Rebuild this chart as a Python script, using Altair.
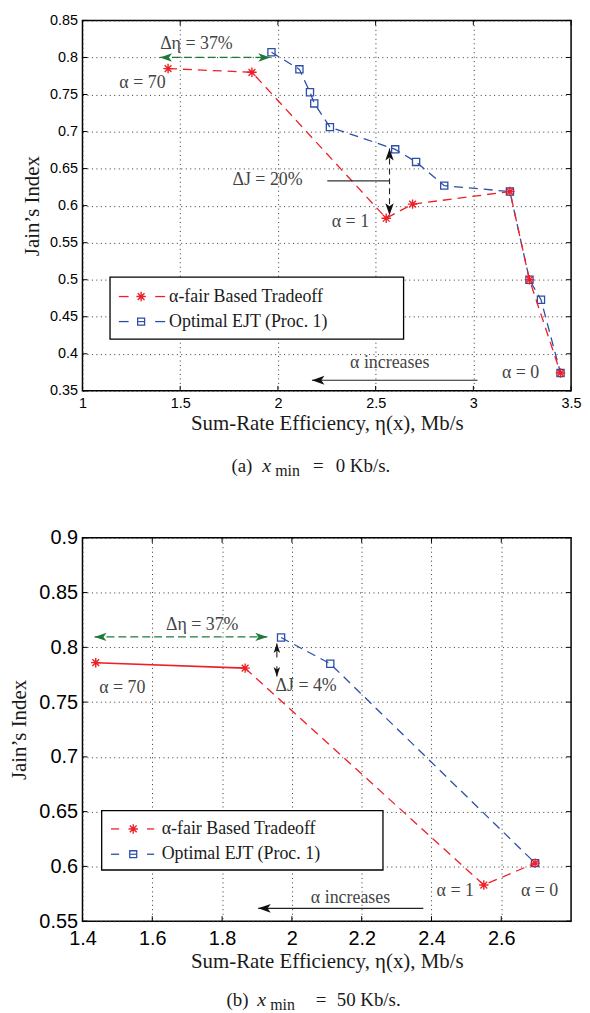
import altair as alt
import pandas as pd

# ---------------- data: panel (a) x_min = 0 Kb/s ----------------
a_fair_eta = [1.438, 1.867, 2.554, 2.689, 3.187, 3.287, 3.446]
a_fair_jain = [0.785, 0.780, 0.583, 0.602, 0.619, 0.500, 0.374]
a_ejt_eta = [1.967, 2.110, 2.164, 2.186, 2.266, 2.600, 2.707, 2.851, 3.187, 3.287, 3.346, 3.446]
a_ejt_jain = [0.807, 0.784, 0.753, 0.738, 0.706, 0.676, 0.659, 0.627, 0.619, 0.500, 0.473, 0.374]
a_xticks = [1.0, 1.5, 2.0, 2.5, 3.0, 3.5]
a_yticks = [0.35, 0.40, 0.45, 0.50, 0.55, 0.60, 0.65, 0.70, 0.75, 0.80, 0.85]

# ---------------- data: panel (b) x_min = 50 Kb/s ----------------
b_fair_eta = [1.438, 1.866, 2.550, 2.697]
b_fair_jain = [0.786, 0.781, 0.583, 0.603]
b_ejt_eta = [1.969, 2.110, 2.697]
b_ejt_jain = [0.809, 0.785, 0.603]
b_xticks = [1.4, 1.6, 1.8, 2.0, 2.2, 2.4, 2.6]
b_yticks = [0.55, 0.60, 0.65, 0.70, 0.75, 0.80, 0.85, 0.90]

series_names = ["α-fair Based Tradeoff", "Optimal EJT (Proc. 1)"]
cap_labels = ["(a)", "(b)"]
cap_values = ["0 Kb/s.", "50 Kb/s."]
x_title = "Sum-Rate Efficiency, η(x), Mb/s"
y_title = "Jain’s Index"

# ---------------- styles ----------------
RED = "#ee1f26"
BLUE = "#2d4ea8"
GREEN = "#1e7a3a"
ANN = "#444444"
TXT = "#1a1a1a"
SERIF = "Liberation Serif"
SANS = "Liberation Sans"
STAR = "M0,-1L0,1M-1,0L1,0M-0.72,-0.72L0.72,0.72M-0.72,0.72L0.72,-0.72"
ARR_L = "M0,0L2,-0.7L1.5,0L2,0.7Z"
ARR_R = "M0,0L-2,-0.7L-1.5,0L-2,0.7Z"
ARR_U = "M0,0L-0.7,2L0,1.5L0.7,2Z"
ARR_D = "M0,0L-0.7,-2L0,-1.5L0.7,-2Z"


def panel(p):
    W, H = p["W"], p["H"]
    xs = alt.Scale(domain=p["xdom"], nice=False, zero=False)
    ys = alt.Scale(domain=p["ydom"], nice=False, zero=False)

    common = dict(
        grid=True, gridDash=[1, 3.5], gridColor="#333333", gridWidth=1,
        ticks=False, domain=False, labelFont=SANS, labelFontSize=p["tfs"],
        labelColor="black", labelOverlap=False, format="~g",
        titleFont=SERIF, titleFontSize=21, titleFontWeight="normal", titleColor=TXT,
        titleAlign="center", titleBaseline="middle",
    )
    xaxis = alt.Axis(values=p["xt"], labelFlush=False, labelPadding=p["xlp"],
                     title=x_title, titleX=W / 2, titleY=p["xty"], **common)
    yaxis = alt.Axis(values=p["yt"], labelPadding=5, title=y_title,
                     titleX=p["ytx"], titleY=H / 2, titleAngle=-90, **common)

    def X(f="x"):
        return alt.X(f, type="quantitative", scale=xs, axis=xaxis)

    def Y(f="y"):
        return alt.Y(f, type="quantitative", scale=ys, axis=yaxis)

    def one(**kw):
        return pd.DataFrame({k: [v] for k, v in kw.items()})

    def txt(x, y, s, size=18, color=ANN, align="center"):
        return alt.Chart(one(x=x, y=y, t=s)).mark_text(
            font=SERIF, fontSize=size, color=color, align=align, baseline="middle"
        ).encode(x=X(), y=Y(), text="t:N")

    def seg(x1, y1, x2, y2, color="#222222", width=1.1, dash=None):
        kw = dict(color=color, strokeWidth=width)
        if dash:
            kw["strokeDash"] = dash
        return alt.Chart(one(x=x1, y=y1, x2=x2, y2=y2)).mark_rule(**kw).encode(
            x=X(), y=Y(), x2="x2:Q", y2="y2:Q"
        )

    def head(x, y, shape, color="#111111", size=144):
        return alt.Chart(one(x=x, y=y)).mark_point(
            shape=shape, filled=True, size=size, color=color, opacity=1, strokeWidth=0
        ).encode(x=X(), y=Y())

    de = pd.DataFrame({"x": p["ex"], "y": p["ey"], "i": range(len(p["ex"]))})
    df = pd.DataFrame({"x": p["fx"], "y": p["fy"], "i": range(len(p["fx"]))})
    ns = p["solid"]

    layers = []
    # EJT series
    layers.append(alt.Chart(de).mark_line(color=BLUE, strokeWidth=1.3, strokeDash=[9, 6]).encode(
        x=X(), y=Y(), order="i:Q"))
    layers.append(alt.Chart(de).mark_point(shape="square", filled=False, size=52, strokeWidth=1.3,
                                           color=BLUE, opacity=1).encode(x=X(), y=Y()))
    # alpha-fair series
    if ns > 1:
        layers.append(alt.Chart(df.iloc[:ns]).mark_line(color=RED, strokeWidth=1.6).encode(
            x=X(), y=Y(), order="i:Q"))
    layers.append(alt.Chart(df.iloc[max(ns - 1, 0):]).mark_line(
        color=RED, strokeWidth=1.3, strokeDash=[9, 6]).encode(x=X(), y=Y(), order="i:Q"))
    layers.append(alt.Chart(df).mark_point(shape=STAR, filled=False, size=90, strokeWidth=1.4,
                                           color=RED, opacity=1).encode(x=X(), y=Y()))

    # inner ticks on all four sides
    dxt = pd.DataFrame({"x": p["xt"]})
    dyt = pd.DataFrame({"y": p["yt"]})
    layers.append(alt.Chart(dxt).mark_rule(color="black", strokeWidth=1).encode(
        x=X(), y=alt.value(H), y2=alt.value(H - 5)))
    layers.append(alt.Chart(dxt).mark_rule(color="black", strokeWidth=1).encode(
        x=X(), y=alt.value(0), y2=alt.value(5)))
    layers.append(alt.Chart(dyt).mark_rule(color="black", strokeWidth=1).encode(
        y=Y(), x=alt.value(0), x2=alt.value(5)))
    layers.append(alt.Chart(dyt).mark_rule(color="black", strokeWidth=1).encode(
        y=Y(), x=alt.value(W), x2=alt.value(W - 5)))

    # annotations
    A = p["ann"]
    layers.append(txt(*A["deta_t"], "Δη = 37%"))
    gx1, gx2, gy = A["deta_arrow"]
    layers.append(seg(gx1, gy, gx2, gy, color=GREEN, width=1.3, dash=[8, 4]))
    layers.append(head(gx1, gy, ARR_L, GREEN))
    layers.append(head(gx2, gy, ARR_R, GREEN))
    layers.append(txt(*A["a70"], "α = 70"))
    layers.append(txt(*A["dj_t"], A["dj_s"], align=A["dj_align"]))
    jx, jy1, jy2, jd = A["dj_arrow"]
    layers.append(seg(jx, jy1, jx, jy2, dash=jd))
    layers.append(head(jx, jy1, ARR_U, size=A["dj_size"]))
    layers.append(head(jx, jy2, ARR_D, size=A["dj_size"]))
    if "dj_lead" in A:
        lx1, lx2, ly = A["dj_lead"]
        layers.append(seg(lx1, ly, lx2, ly, color="#333333", width=1.2))
    layers.append(txt(*A["a1"], "α = 1"))
    layers.append(txt(*A["a0"], "α = 0"))
    layers.append(txt(*A["inc_t"], "α increases"))
    ix1, ix2, iy = A["inc_arrow"]
    layers.append(seg(ix1, iy, ix2, iy, color="#222222", width=1.2))
    layers.append(head(ix2, iy, ARR_L, "#111111", size=160))

    # legend box
    L = p["leg"]
    layers.append(alt.Chart(one(x=L["x1"], x2=L["x2"], y=L["y1"], y2=L["y2"])).mark_rect(
        fill="white", stroke="black", strokeWidth=1.3).encode(x=X(), x2="x2:Q", y=Y(), y2="y2:Q"))
    for k, col in enumerate([RED, BLUE]):
        yy = L["rows"][k]
        a1, a2, b1, b2 = L["dash"]
        layers.append(seg(a1, yy, a2, yy, color=col, width=1.3))
        layers.append(seg(b1, yy, b2, yy, color=col, width=1.3))
        if k == 0:
            layers.append(alt.Chart(one(x=L["mx"], y=yy)).mark_point(
                shape=STAR, filled=False, size=90, strokeWidth=1.4, color=col,
                opacity=1).encode(x=X(), y=Y()))
        else:
            layers.append(alt.Chart(one(x=L["mx"], y=yy)).mark_point(
                shape="square", filled=False, size=49, strokeWidth=1.3, color=col,
                opacity=1).encode(x=X(), y=Y()))
            layers.append(alt.Chart(one(x=L["mx"], y=yy)).mark_point(
                shape="stroke", filled=False, size=36, strokeWidth=1.2, color=col,
                opacity=1).encode(x=X(), y=Y()))
        layers.append(txt(L["tx"], yy, series_names[k], size=18, color=TXT, align="left"))

    # caption: "(a)  x_min = 0 Kb/s."
    cy = H + p["capdy"]
    c = p["cap"]
    parts = [
        (c[0], 0, cap_labels[p["k"]], 19, "normal"),
        (c[1], 0, "x", 20, "italic"),
        (c[2], 5, "min", 16, "normal"),
        (c[3], 0, "=", 19, "normal"),
        (c[4], 0, cap_values[p["k"]], 19, "normal"),
    ]
    for dx, dy, s, size, style in parts:
        layers.append(alt.Chart(one(t=s)).mark_text(
            font=SERIF, fontSize=size, fontStyle=style, color=TXT, baseline="middle",
            align="left").encode(x=alt.value(dx), y=alt.value(cy + dy), text="t:N"))

    return alt.layer(*layers).properties(width=W, height=H)


top = panel(dict(
    k=0, W=492, H=373, xdom=[1.0, 3.5], ydom=[0.35, 0.85], xt=a_xticks, yt=a_yticks, tfs=14.5,
    xlp=6, xty=33, ytx=-50,
    fx=a_fair_eta, fy=a_fair_jain, ex=a_ejt_eta, ey=a_ejt_jain, solid=0,
    ann=dict(
        deta_t=(1.583, 0.818), deta_arrow=(1.397, 1.961, 0.800),
        a70=(1.307, 0.766),
        dj_t=(1.947, 0.634), dj_s="ΔJ = 20%", dj_align="center",
        dj_arrow=(2.571, 0.677, 0.587, [6, 4]), dj_size=144,
        dj_lead=(2.2525, 2.571, 0.6335),
        a1=(2.371, 0.578), a0=(3.242, 0.374),
        inc_t=(2.572, 0.388), inc_arrow=(3.021, 2.174, 0.3643),
    ),
    leg=dict(x1=1.141, x2=2.643, y1=0.4198, y2=0.5036, rows=[0.4773, 0.4435],
             dash=(1.186, 1.236, 1.372, 1.423), mx=1.300, tx=1.443),
    cap=(150, 181, 194, 232, 255), capdy=76,
))

bot = panel(dict(
    k=1, W=492, H=386, xdom=[1.4, 2.8], ydom=[0.55, 0.90], xt=b_xticks, yt=b_yticks, tfs=20,
    xlp=8, xty=41, ytx=-63,
    fx=b_fair_eta, fy=b_fair_jain, ex=b_ejt_eta, ey=b_ejt_jain, solid=2,
    ann=dict(
        deta_t=(1.743, 0.820), deta_arrow=(1.4346, 1.9296, 0.8095),
        a70=(1.514, 0.763),
        dj_t=(1.953, 0.7644), dj_s="ΔJ = 4%", dj_align="left",
        dj_arrow=(1.957, 0.8035, 0.7734, [14, 9]), dj_size=90,
        a1=(2.468, 0.5773), a0=(2.7096, 0.5773),
        inc_t=(2.168, 0.5714), inc_arrow=(2.3767, 1.9034, 0.5617),
    ),
    leg=dict(x1=1.455, x2=2.261, y1=0.5967, y2=0.651, rows=[0.6342, 0.6111],
             dash=(1.4816, 1.505, 1.5848, 1.6053), mx=1.5454, tx=1.627),
    cap=(145, 176, 189, 235, 256), capdy=79,
))

chart = alt.vconcat(top, bot, spacing=47).properties(
    padding={"left": 0, "top": 0, "right": 0, "bottom": 0}
).configure_view(stroke="black", strokeWidth=1.5)

chart.save("out.html", embed_options={"renderer": "svg", "actions": False})
